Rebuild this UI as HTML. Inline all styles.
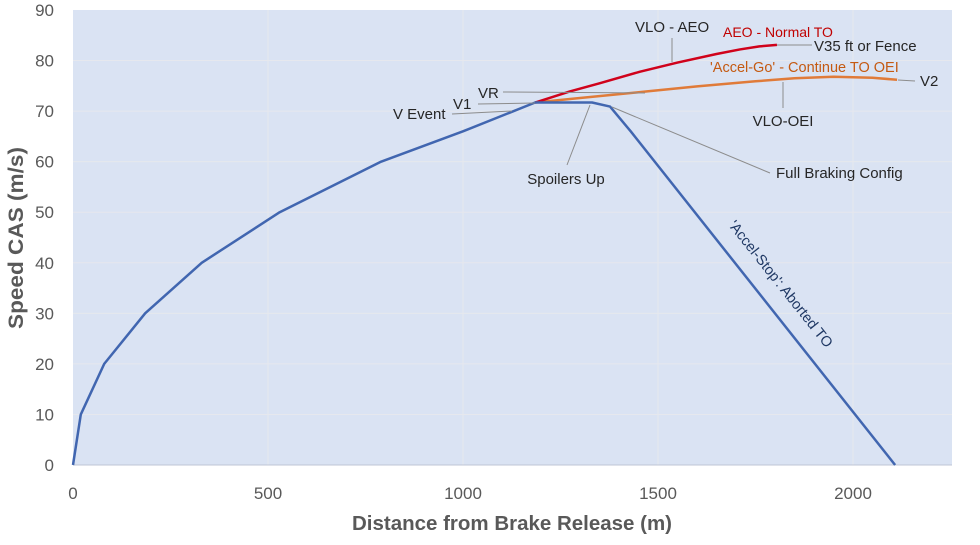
<!DOCTYPE html>
<html><head><meta charset="utf-8"><style>
html,body{margin:0;padding:0;background:#fff;}
svg{display:block;font-family:"Liberation Sans",sans-serif;}
</style></head><body>
<svg id="chart" width="980" height="545" viewBox="0 0 980 545" xmlns="http://www.w3.org/2000/svg">
<rect x="73" y="10" width="879" height="455" fill="#dae3f3"/>
<g id="grid"></g>
<g id="ticks"></g>
<g id="series"></g>
<g id="annots" font-size="15" fill="#262626"></g>
<text transform="translate(23,238) rotate(-90)" text-anchor="middle" font-size="21" font-weight="bold" fill="#595959" textLength="182" lengthAdjust="spacingAndGlyphs">Speed CAS (m/s)</text>
<text x="512" y="530" text-anchor="middle" font-size="20" font-weight="bold" fill="#595959" textLength="320" lengthAdjust="spacingAndGlyphs">Distance from Brake Release (m)</text>
</svg>
<script>
const xTicks=[0,500,1000,1500,2000];
const yTicks=[0,10,20,30,40,50,60,70,80,90];
const stopDist=[0,20,80,185,330,530,790,1000,1185,1331,1377,1430,2108];
const stopSpeed=[0,10,20,30,40,50,60,66,71.7,71.7,70.9,66,0];
const aeoDist=[1185,1274,1350,1454,1550,1650,1710,1760,1805];
const aeoSpeed=[71.7,73.9,75.5,77.8,79.6,81.3,82.2,82.8,83.1];
const oeiDist=[1185,1300,1472,1600,1750,1850,1950,2050,2113];
const oeiSpeed=[71.7,72.6,73.9,74.9,75.9,76.5,76.8,76.6,76.2];
const NS="http://www.w3.org/2000/svg";
const X=d=>73+d*0.39, Y=v=>465-v*(455/90);
function mk(tag,attrs,parent){const e=document.createElementNS(NS,tag);for(const k in attrs)e.setAttribute(k,attrs[k]);parent.appendChild(e);return e;}
const grid=document.getElementById('grid'),ticks=document.getElementById('ticks'),series=document.getElementById('series'),ann=document.getElementById('annots');
yTicks.forEach(v=>{
 if(v>0&&v<90){const l=mk('line',{x1:73,x2:952,y1:Y(v),y2:Y(v),stroke:'#e6e8ee','stroke-width':1},grid);
 
 }
 const t=mk('text',{x:54,y:Y(v)+6,'text-anchor':'end','font-size':17,fill:'#595959'},ticks);t.textContent=v;
 
 
});
xTicks.forEach(d=>{
 if(d>0){const l=mk('line',{x1:X(d),x2:X(d),y1:10,y2:465,stroke:'#e6e8ee','stroke-width':1},grid);
 
 }
 const t=mk('text',{x:X(d),y:499,'text-anchor':'middle','font-size':17,fill:'#595959'},ticks);t.textContent=d;
 
 
});
const ax=mk('line',{x1:73,x2:952,y1:465,y2:465,stroke:'#bfc6d4','stroke-width':1},grid);


function line(ds,vs,color,w,name){const p=mk('polyline',{points:ds.map((d,i)=>X(d)+','+Y(vs[i])).join(' '),fill:'none',stroke:color,'stroke-width':w,'stroke-linejoin':'round'},series);
 
 }
line(oeiDist,oeiSpeed,'#e07b39',2.5,'accel-go-oei-line');
line(aeoDist,aeoSpeed,'#d0021b',2.5,'aeo-normal-line');
line(stopDist,stopSpeed,'#4166b0',2.5,'accel-stop-line');
function lead(x1,y1,x2,y2){const l=mk('line',{x1,y1,x2,y2,stroke:'#8c8c8c','stroke-width':1},ann);
 
 }
function lab(x,y,txt,name,opts){const t=mk('text',Object.assign({x,y},opts||{}),ann);t.textContent=txt;
 
 return t;}
lead(452,114,512,111);lead(478,104,535,103);lead(503,92,645,93);
lead(672,38,672,62);lead(777,45,812,45);lead(898,80,915,81);lead(783,82,783,108);
lead(567,165,590,105);lead(612,107,770,173);
lab(393,119,'V Event','v-event-label');
lab(453,109,'V1','v1-label');
lab(478,98,'VR','vr-label');
lab(635,32,'VLO - AEO','vlo-aeo-label');
lab(723,37,'AEO - Normal TO','aeo-normal-label',{fill:'#c00000','font-size':14});
lab(814,51,'V35 ft or Fence','v35-label');
lab(710,72,"'Accel-Go' - Continue TO OEI",'accel-go-label',{fill:'#c55a11','font-size':14.5});
lab(920,86,'V2','v2-label');
lab(783,126,'VLO-OEI','vlo-oei-label',{'text-anchor':'middle'});
lab(566,184,'Spoilers Up','spoilers-up-label',{'text-anchor':'middle'});
lab(776,178,'Full Braking Config','full-braking-label');
lab(0,0,"'Accel-Stop': Aborted TO",'accel-stop-label',{transform:'translate(777,287) rotate(51.5)','text-anchor':'middle',fill:'#1f3864','font-size':14.5});
</script>
</body></html>
